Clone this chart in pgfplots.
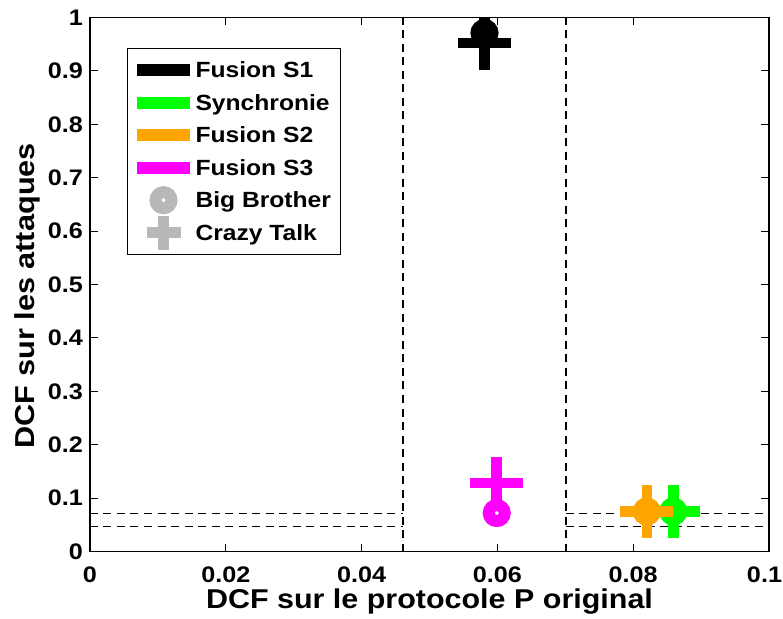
\documentclass[border=0pt]{standalone}
\usepackage{fontspec}
\setmainfont{Liberation Sans}[FakeStretch=1.12]
\usepackage{pgfplots}
\pgfplotsset{compat=1.18}
\definecolor{mgreen}{rgb}{0,1,0}
\definecolor{morange}{rgb}{1,0.647,0}
\definecolor{mmag}{rgb}{1,0,1}
\definecolor{mgray}{rgb}{0.72,0.72,0.72}
\pgfplotsset{
  bbmark/.style={only marks, mark=o, mark size=8pt, mark options={line width=12pt}, forget plot},
  ctmark/.style={only marks, mark=+, mark size=26.5pt, mark options={line width=10.5pt}, forget plot},
  thr/.style={black, line width=1.3pt, dash pattern=on 8pt off 5.5pt, forget plot},
}
\begin{document}
\begin{tikzpicture}
\begin{axis}[
  scale only axis, width=679pt, height=534pt,
  at={(0,0)}, anchor=south west,
  xmin=0, xmax=0.1, ymin=0, ymax=1,
  xtick={0,0.02,0.04,0.06,0.08,0.1},
  xticklabels={0,0.02,0.04,0.06,0.08,{\hspace*{-9pt}0.1}},
  ytick={0,0.1,0.2,0.3,0.4,0.5,0.6,0.7,0.8,0.9,1},
  yticklabels={0,0.1,0.2,0.3,0.4,0.5,0.6,0.7,0.8,0.9,1},
  tick align=inside, xtick pos=both, ytick pos=both,
  major tick length=8pt,
  every tick/.style={black, line width=1pt},
  axis line style={line width=1.3pt},
  xticklabel style={font=\bfseries\fontsize{22.5}{22.5}\selectfont, inner sep=0pt, anchor=north, yshift=-15pt},
  yticklabel style={font=\bfseries\fontsize{22.5}{22.5}\selectfont, inner sep=0pt, anchor=east, xshift=-7pt},
  xlabel={DCF sur le protocole P original},
  ylabel={DCF sur les attaques},
  xlabel style={font=\bfseries\fontsize{27.2}{27.2}\selectfont, inner sep=0pt, at={([yshift=-56.5pt]axis description cs:0.5,0)}, anchor=base},
  ylabel style={font=\bfseries\fontsize{27.4}{27.4}\selectfont, inner sep=0pt, at={([xshift=-55pt]axis description cs:0,0.479)}, anchor=base, rotate=0},
  legend cell align=left,
  legend style={at={(axis description cs:0.0545,0.943)}, anchor=north west,
    draw=black, line width=1pt, fill=white,
    font=\bfseries\fontsize{22}{22}\selectfont,
    inner xsep=9.5pt, inner ysep=5.5pt, column sep=5.5pt, row sep=0pt,
    nodes={inner sep=0pt, text height=23.6pt, text depth=8.9pt}},
]
% Fusion S1
\addplot[bbmark, black] coordinates {(0.0581,0.971)};
\addplot[ctmark, black] coordinates {(0.0581,0.952)};
% Synchronie
\addplot[bbmark, mgreen] coordinates {(0.0859,0.075)};
\addplot[ctmark, mgreen] coordinates {(0.0859,0.075)};
% Fusion S2
\addplot[bbmark, morange] coordinates {(0.0820,0.075)};
\addplot[ctmark, morange] coordinates {(0.0820,0.075)};
% Fusion S3
\addplot[bbmark, mmag] coordinates {(0.0599,0.072)};
\addplot[ctmark, mmag] coordinates {(0.0599,0.128)};
% thresholds
\addplot[thr] coordinates {(0.0461,0) (0.0461,1)};
\addplot[thr] coordinates {(0.0701,0) (0.0701,1)};
\addplot[thr] coordinates {(0,0.0706) (0.0461,0.0706)};
\addplot[thr] coordinates {(0,0.0474) (0.0461,0.0474)};
\addplot[thr] coordinates {(0.0701,0.0706) (0.1,0.0706)};
\addplot[thr] coordinates {(0.0701,0.0474) (0.1,0.0474)};
% legend
\addlegendimage{legend image code/.code={\path[draw=none] (0pt,0pt) -- (53pt,0pt); \draw[overlay, black, line width=12pt] (0pt,0pt) -- (53pt,0pt);}}
\addlegendentry{Fusion S1}
\addlegendimage{legend image code/.code={\path[draw=none] (0pt,0pt) -- (53pt,0pt); \draw[overlay, mgreen, line width=12pt] (0pt,0pt) -- (53pt,0pt);}}
\addlegendentry{Synchronie}
\addlegendimage{legend image code/.code={\path[draw=none] (0pt,0pt) -- (53pt,0pt); \draw[overlay, morange, line width=12pt] (0pt,0pt) -- (53pt,0pt);}}
\addlegendentry{Fusion S2}
\addlegendimage{legend image code/.code={\path[draw=none] (0pt,0pt) -- (53pt,0pt); \draw[overlay, mmag, line width=12pt] (0pt,0pt) -- (53pt,0pt);}}
\addlegendentry{Fusion S3}
\addlegendimage{legend image code/.code={\path[draw=none] (0pt,0pt) -- (53pt,0pt); \draw[overlay, mgray, line width=12pt] (26.5pt,0pt) circle (8pt);}}
\addlegendentry{Big Brother}
\addlegendimage{legend image code/.code={\path[draw=none] (0pt,0pt) -- (53pt,0pt); \draw[overlay, mgray, line width=11pt] (9.5pt,0pt) -- (43.5pt,0pt) (26.5pt,-17pt) -- (26.5pt,17pt);}}
\addlegendentry{Crazy Talk}
\end{axis}
\pgfresetboundingbox
\path[use as bounding box] (-90pt,-66.5pt) rectangle (693pt,551.5pt);
\end{tikzpicture}
\end{document}
